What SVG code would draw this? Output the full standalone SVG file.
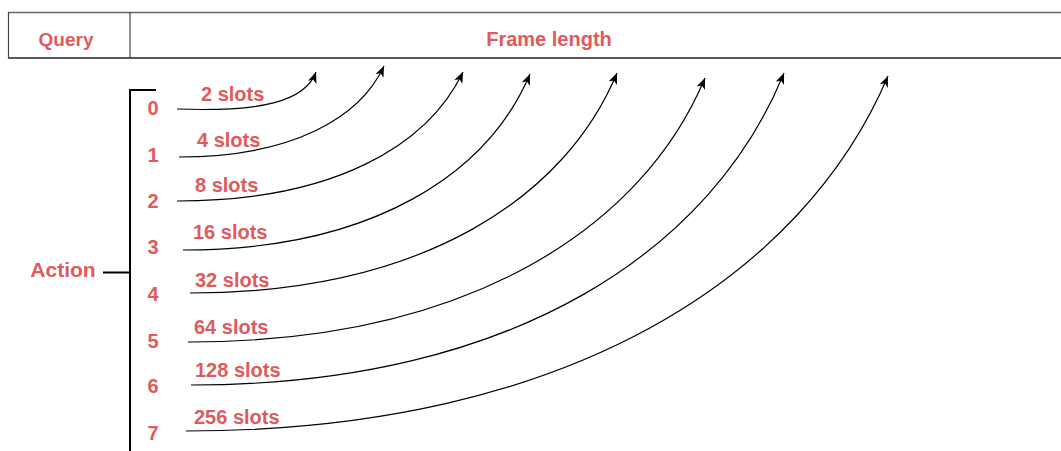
<svg xmlns="http://www.w3.org/2000/svg" width="1061" height="451" viewBox="0 0 1061 451">
<style>
.lbl{font-family:"Liberation Sans",Arial,Helvetica,sans-serif;font-weight:bold;font-size:20px;fill:#e05a5b}
.num{text-anchor:middle}
.edge{fill:none;stroke:#000;stroke-width:1.2}
.brk{fill:none;stroke:#000;stroke-width:2}
</style>
<defs>
<marker id="ah" markerUnits="userSpaceOnUse" markerWidth="14" markerHeight="12" refX="11" refY="4.5" orient="auto" viewBox="0 0 14 12">
<path d="M0,0 L11,4.5 L0,9 L3,4.5 z" fill="#000"/>
</marker>
</defs>
<rect width="1061" height="451" fill="#fff"/>
<g id="header">
<line x1="8" y1="12.5" x2="1070" y2="12.5" stroke="#666" stroke-width="1.3"/>
<line x1="8" y1="58" x2="1070" y2="58" stroke="#222" stroke-width="1.3"/>
<line x1="8.5" y1="12" x2="8.5" y2="58" stroke="#444" stroke-width="1.2"/>
<line x1="130" y1="12" x2="130" y2="58" stroke="#444" stroke-width="1.2"/>
<text class="lbl" x="66" y="46" text-anchor="middle" style="font-size:19px">Query</text>
<text class="lbl" x="549" y="46" text-anchor="middle">Frame length</text>
</g>
<g id="action">
<path class="brk" d="M156,90 H130 V451"/>
<path class="brk" d="M103,272.5 H130"/>
<text class="lbl" x="63" y="277" text-anchor="middle" style="font-size:21px">Action</text>
</g>
<g id="nums">
<text class="lbl num" x="153" y="115">0</text>
<text class="lbl num" x="153" y="162">1</text>
<text class="lbl num" x="153" y="208">2</text>
<text class="lbl num" x="153" y="254">3</text>
<text class="lbl num" x="153" y="301">4</text>
<text class="lbl num" x="153" y="348">5</text>
<text class="lbl num" x="153" y="393">6</text>
<text class="lbl num" x="153" y="440">7</text>
</g>
<g id="connectors">
<path class="edge" marker-end="url(#ah)" d="M177,109 C260,112 305,102 316,72"/>
<path class="edge" marker-end="url(#ah)" d="M179,157 C292,157 360,118 384,66"/>
<path class="edge" marker-end="url(#ah)" d="M177,201 C335,201 428,145 463,72"/>
<path class="edge" marker-end="url(#ah)" d="M183,250 C374,250 488,173 530,74"/>
<path class="edge" marker-end="url(#ah)" d="M190,293 C425,293 566,196 617,73"/>
<path class="edge" marker-end="url(#ah)" d="M188,342 C472,342 643,226 705,78"/>
<path class="edge" marker-end="url(#ah)" d="M191,385 C517,385 713,248 784,73"/>
<path class="edge" marker-end="url(#ah)" d="M186,431 C572,431 804,274 888,76"/>
</g>
<g id="labels">
<text class="lbl" x="201" y="101">2 slots</text>
<text class="lbl" x="197" y="147">4 slots</text>
<text class="lbl" x="195" y="192">8 slots</text>
<text class="lbl" x="193" y="239">16 slots</text>
<text class="lbl" x="195" y="287">32 slots</text>
<text class="lbl" x="194" y="334">64 slots</text>
<text class="lbl" x="195" y="377">128 slots</text>
<text class="lbl" x="194" y="424">256 slots</text>
</g>
</svg>
